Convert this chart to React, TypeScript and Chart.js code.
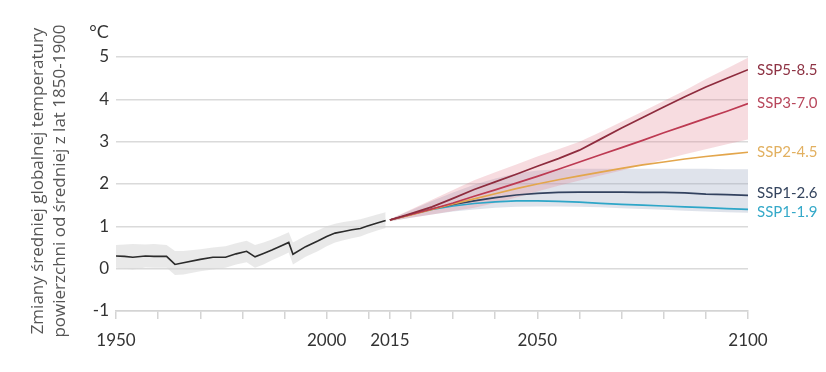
import React, { useEffect, useRef } from "react";
import { Chart, registerables } from "chart.js";

Chart.register(...registerables);

// ---- data ----
const histYears = [1950, 1952, 1954, 1957, 1959, 1962, 1964, 1966, 1970, 1973, 1976, 1978.5, 1981, 1983, 1985, 1987, 1989, 1991, 1992, 1995, 1998, 2000, 2002, 2004, 2006, 2008, 2009.5, 2012, 2014];
const histMean = [0.30, 0.29, 0.27, 0.30, 0.29, 0.29, 0.10, 0.14, 0.22, 0.27, 0.27, 0.35, 0.41, 0.28, 0.36, 0.44, 0.53, 0.62, 0.34, 0.52, 0.66, 0.76, 0.84, 0.88, 0.92, 0.95, 1.00, 1.08, 1.14];
const histUpper = [0.56, 0.57, 0.58, 0.57, 0.58, 0.56, 0.42, 0.42, 0.46, 0.50, 0.53, 0.60, 0.66, 0.56, 0.62, 0.69, 0.77, 0.86, 0.62, 0.78, 0.91, 1.00, 1.06, 1.10, 1.13, 1.17, 1.21, 1.28, 1.33];
const histLower = [0.02, 0.00, -0.02, 0.03, 0.02, 0.02, -0.15, -0.14, -0.06, -0.02, 0.02, 0.10, 0.15, 0.02, 0.10, 0.20, 0.29, 0.38, 0.10, 0.28, 0.42, 0.53, 0.62, 0.67, 0.72, 0.76, 0.82, 0.90, 0.96];

const projYears = [2015, 2020, 2025, 2030, 2035, 2040, 2045, 2050, 2055, 2060, 2065, 2070, 2075, 2080, 2085, 2090, 2095, 2100];
const ssp585 = [1.15, 1.30, 1.46, 1.66, 1.87, 2.05, 2.23, 2.42, 2.60, 2.80, 3.06, 3.32, 3.57, 3.82, 4.06, 4.29, 4.50, 4.70];
const ssp370 = [1.15, 1.28, 1.41, 1.55, 1.71, 1.86, 2.02, 2.18, 2.35, 2.52, 2.69, 2.86, 3.03, 3.21, 3.38, 3.55, 3.72, 3.90];
const ssp245 = [1.15, 1.27, 1.40, 1.53, 1.65, 1.77, 1.89, 2.00, 2.10, 2.19, 2.28, 2.37, 2.45, 2.52, 2.59, 2.65, 2.70, 2.75];
const ssp126 = [1.15, 1.28, 1.41, 1.52, 1.60, 1.68, 1.74, 1.78, 1.80, 1.81, 1.81, 1.81, 1.80, 1.80, 1.79, 1.76, 1.75, 1.73];
const ssp119 = [1.15, 1.28, 1.40, 1.48, 1.54, 1.58, 1.60, 1.60, 1.59, 1.57, 1.54, 1.52, 1.50, 1.48, 1.46, 1.44, 1.42, 1.40];

const redBandUpper = [1.17, 1.40, 1.63, 1.86, 2.09, 2.28, 2.46, 2.65, 2.82, 3.00, 3.23, 3.47, 3.71, 3.96, 4.21, 4.48, 4.73, 4.98];
const redBandLower = [1.12, 1.20, 1.28, 1.36, 1.44, 1.55, 1.68, 1.82, 1.96, 2.08, 2.20, 2.32, 2.45, 2.57, 2.70, 2.82, 2.94, 3.05];
const blueBandUpper = [1.17, 1.38, 1.60, 1.80, 1.98, 2.13, 2.25, 2.32, 2.35, 2.36, 2.36, 2.36, 2.36, 2.36, 2.36, 2.36, 2.35, 2.35];
const blueBandLower = [1.12, 1.20, 1.28, 1.35, 1.40, 1.44, 1.46, 1.47, 1.47, 1.46, 1.45, 1.43, 1.41, 1.39, 1.37, 1.35, 1.33, 1.32];

const scenarioNames = ["SSP5-8.5", "SSP3-7.0", "SSP2-4.5", "SSP1-2.6", "SSP1-1.9"];
const scenarioSeries = [ssp585, ssp370, ssp245, ssp126, ssp119];
const scenarioLineColors = ["#8e2c3e", "#bd3a52", "#e3a64c", "#33425f", "#2ea6c8"];
const scenarioTextColors = ["#8e3344", "#b8475c", "#e2b060", "#34445e", "#35a9c9"];

const xTickYears = [1950, 1960, 1970, 1980, 1990, 2000, 2010, 2015, 2020, 2030, 2040, 2050, 2060, 2070, 2080, 2090, 2100];
const xLabelYears = [1950, 2000, 2015, 2050, 2100];
const yMin = -1;
const yMax = 5;

const yTitleLines = ["Zmiany średniej globalnej temperatury", "powierzchni od średniej z lat 1850-1900"];
const unitLabel = "°C";

const FONT = "Lato, 'Open Sans', sans-serif";
const TITLE_FONT = "'Open Sans', Lato, sans-serif";

const pts = (xs: number[], ys: number[]) => xs.map((x, i) => ({ x, y: ys[i] }));

const overlayPlugin = {
  id: "overlay",
  afterDraw(chart: any) {
    const { ctx, chartArea, scales } = chart;
    const ys = scales.y;
    ctx.save();
    // y-axis title (two rotated lines)
    ctx.fillStyle = "#555555";
    ctx.font = `17px ${TITLE_FONT}`;
    ctx.textAlign = "center";
    ctx.textBaseline = "alphabetic";
    const titleX = [43, 65];
    yTitleLines.forEach((line, i) => {
      ctx.save();
      ctx.translate(titleX[i], 181);
      ctx.rotate(-Math.PI / 2);
      ctx.fillText(line, 0, 0);
      ctx.restore();
    });
    // unit
    ctx.fillStyle = "#333333";
    ctx.font = `18px ${FONT}`;
    ctx.textAlign = "center";
    ctx.fillText(unitLabel, 99, 38);

    // end labels
    const items = scenarioNames.map((name, i) => {
      const s = scenarioSeries[i];
      return { name, color: scenarioTextColors[i], y: ys.getPixelForValue(s[s.length - 1]) };
    });
    const sorted = [...items].sort((a, b) => a.y - b.y);
    const gap = 19;
    for (let k = 1; k < sorted.length; k++) {
      const prev = sorted[k - 1];
      const cur = sorted[k];
      if (cur.y - prev.y < gap) {
        const mid = (cur.y + prev.y) / 2;
        prev.y = mid - gap / 2;
        cur.y = mid + gap / 2;
      }
    }
    ctx.font = `15px ${FONT}`;
    ctx.textAlign = "left";
    ctx.textBaseline = "middle";
    sorted.forEach((it) => {
      ctx.fillStyle = it.color;
      ctx.fillText(it.name, chartArea.right + 9, it.y);
    });
    ctx.restore();
  },
};

export default function App() {
  const ref = useRef<HTMLCanvasElement | null>(null);
  useEffect(() => {
    if (!ref.current) return;
    const lineDs = scenarioNames.map((name, i) => ({
      label: name,
      data: pts(projYears, scenarioSeries[i]),
      borderColor: scenarioLineColors[i],
      borderWidth: 1.7,
      pointRadius: 0,
      fill: false,
      tension: 0,
      order: 0,
    }));
    const band = (label: string, data: number[], xs: number[], fill: any, color: string, order: number) => ({
      label,
      data: pts(xs, data),
      borderWidth: 0,
      borderColor: "rgba(0,0,0,0)",
      backgroundColor: color,
      pointRadius: 0,
      fill,
      tension: 0,
      order,
    });
    const chart = new Chart(ref.current, {
      type: "line",
      data: {
        datasets: [
          ...lineDs,
          {
            label: "historical",
            data: pts(histYears, histMean),
            borderColor: "#2b2b2b",
            borderWidth: 1.6,
            pointRadius: 0,
            fill: false,
            tension: 0,
            order: 0,
          },
          band("redU", redBandUpper, projYears, "+1", "rgba(228,128,142,0.28)", 1),
          band("redL", redBandLower, projYears, false, "rgba(0,0,0,0)", 1),
          band("blueU", blueBandUpper, projYears, "+1", "rgba(150,163,188,0.30)", 2),
          band("blueL", blueBandLower, projYears, false, "rgba(0,0,0,0)", 2),
          band("histU", histUpper, histYears, "+1", "rgba(215,215,215,0.55)", 2),
          band("histL", histLower, histYears, false, "rgba(0,0,0,0)", 2),
        ] as any,
      },
      options: {
        responsive: false,
        animation: false,
        layout: { padding: { left: 0, right: 78, top: 57, bottom: 0 } },
        plugins: {
          legend: { display: false },
          tooltip: { enabled: false },
          title: { display: false },
        },
        scales: {
          x: {
            type: "linear",
            min: 1950,
            max: 2100,
            afterBuildTicks: (axis: any) => {
              axis.ticks = xTickYears.map((v) => ({ value: v }));
            },
            afterFit: (axis: any) => {
              axis.height = 61;
            },
            ticks: {
              autoSkip: false,
              maxRotation: 0,
              padding: 11,
              color: "#333333",
              font: { family: FONT, size: 17 },
              callback: (v: any) => (xLabelYears.includes(Number(v)) ? String(v) : ""),
            },
            grid: {
              drawOnChartArea: false,
              drawTicks: true,
              tickLength: 8,
              color: "#d4d4d4",
              lineWidth: 1.5,
            },
            border: { display: true, color: "#d4d4d4", width: 1.5 },
          },
          y: {
            min: yMin,
            max: yMax,
            afterFit: (axis: any) => {
              axis.width = 116;
            },
            ticks: {
              stepSize: 1,
              padding: 7,
              color: "#333333",
              font: { family: FONT, size: 17 },
            },
            grid: {
              drawTicks: false,
              color: "#dadada",
              lineWidth: 1.5,
            },
            border: { display: false },
          },
        },
      } as any,
      plugins: [overlayPlugin],
    });
    return () => chart.destroy();
  }, []);
  return (
    <div style={{ position: "absolute", left: 0, top: 0, width: 826, height: 372, background: "#fff" }}>
      <canvas ref={ref} width={826} height={372} style={{ display: "block" }} />
    </div>
  );
}
